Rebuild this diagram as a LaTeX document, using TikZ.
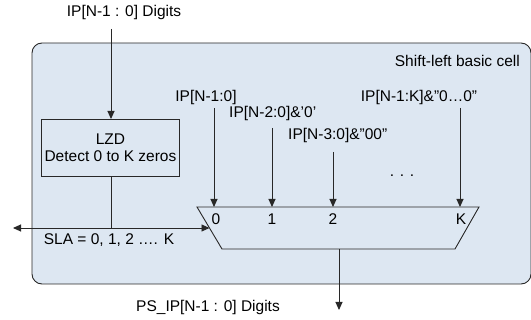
\documentclass[tikz,border=0pt]{standalone}
\usepackage{fontspec}
\setmainfont{Liberation Sans}
\usetikzlibrary{arrows.meta}
\definecolor{bgblue}{RGB}{221,231,242}
\definecolor{linegray}{RGB}{40,40,40}
\tikzset{
  lbl/.style={inner sep=0pt, font=\fontsize{15.5}{17}\selectfont, text=black},
  arr/.style={draw=linegray, line width=0.9pt, -{Triangle[length=8pt,width=7pt]}},
  ln/.style={draw=linegray, line width=0.9pt},
}
\begin{document}
\begin{tikzpicture}[x=1pt,y=-1pt]
\useasboundingbox (0,0) rectangle (531,320);
\clip (0,0) rectangle (531,320);
% outer cell
\draw[ln, fill=bgblue, rounded corners=10pt] (32,43) rectangle (531,284);
\node[lbl, anchor=east] (title) at (520,61) {Shift-left basic cell};
% top input
\node[lbl] (ipin) at (124,12) {IP[N-1 : 0] Digits};
\coordinate (ipstart) at (111,29);
% LZD
\node[ln, fill=bgblue, minimum width=138pt, minimum height=57pt, inner sep=0pt, anchor=north west,
      align=center, font=\fontsize{15.5}{17}\selectfont] (lzd) at (41,119) {LZD\\Detect 0 to K zeros};
\draw[arr] (ipstart) -- (lzd.north -| ipstart);
% mux
\coordinate (m1) at (197,207);
\coordinate (m2) at (479,207);
\coordinate (m3) at (455,249);
\coordinate (m4) at (222,249);
\draw[ln, fill=bgblue] (m1) -- (m2) -- (m3) -- (m4) -- cycle;
\coordinate (mleft) at (209.5,228);
\coordinate (junc) at (111,228);
\coordinate (leftend) at (13,228);
\draw[ln] (lzd.south -| junc) -- (junc);
\draw[arr] (junc) -- (mleft);
\draw[arr] (junc) -- (leftend);
\node[lbl] (sla) at (109,240) {SLA = 0, 1, 2 …. K};
% mux input numbers
\node[lbl] (n0) at (216,219) {0};
\node[lbl] (n1) at (272,219) {1};
\node[lbl] (n2) at (333,219) {2};
\node[lbl] (nk) at (461,219) {K};
% input labels
\node[lbl] (l0) at (206,97) {IP[N-1:0]};
\node[lbl, anchor=west] (l1) at (229,113) {IP[N-2:0]\&’0’};
\node[lbl, anchor=west] (l2) at (288,135) {IP[N-3:0]\&”00”};
\node[lbl] (lk) at (419,97) {IP[N-1:K]\&”0…0”};
\node[lbl, anchor=base] (dots) at (402,177) {. . .};
\coordinate (s0) at (214,108);
\coordinate (s1) at (272,128);
\coordinate (s2) at (333,152);
\coordinate (sk) at (460,108);
\draw[arr] (s0) -- (s0 |- m1);
\draw[arr] (s1) -- (s1 |- m1);
\draw[arr] (s2) -- (s2 |- m1);
\draw[arr] (sk) -- (sk |- m1);
% output
\coordinate (obot) at (339,249);
\coordinate (oend) at (339,310);
\draw[arr] (obot) -- (oend);
\node[lbl] (out) at (208,307) {PS\_IP[N-1 : 0] Digits};
\end{tikzpicture}
\end{document}
